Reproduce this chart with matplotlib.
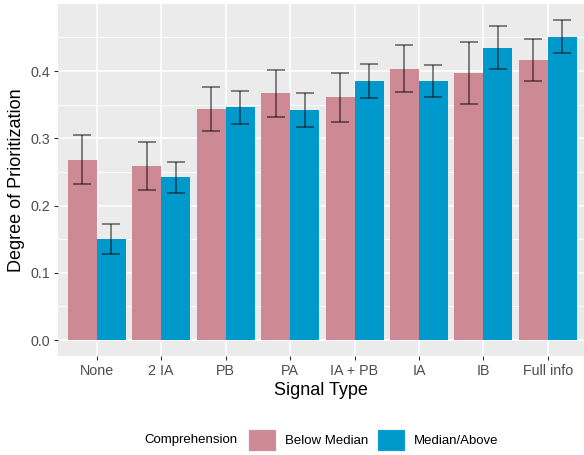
import matplotlib.pyplot as plt
import numpy as np
from matplotlib.patches import Patch

plt.rcParams['font.family'] = ['Liberation Sans', 'DejaVu Sans']

# data
categories = ["None", "2 IA", "PB", "PA", "IA + PB", "IA", "IB", "Full info"]
groups = ["Below Median", "Median/Above"]

below_mean = [0.268, 0.259, 0.344, 0.367, 0.361, 0.403, 0.397, 0.416]
below_low = [0.232, 0.223, 0.311, 0.332, 0.325, 0.369, 0.351, 0.386]
below_high = [0.305, 0.294, 0.377, 0.402, 0.397, 0.439, 0.443, 0.448]

above_mean = [0.150, 0.242, 0.347, 0.342, 0.386, 0.386, 0.435, 0.451]
above_low = [0.128, 0.219, 0.322, 0.317, 0.360, 0.362, 0.403, 0.427]
above_high = [0.173, 0.265, 0.371, 0.368, 0.411, 0.409, 0.467, 0.476]

colors = ["#CD8A94", "#0099CC"]

W, H = 584, 455
fig = plt.figure(figsize=(W / 100, H / 100), dpi=100)
ax = fig.add_axes([58 / W, (H - 356) / H, (W - 58) / W, (356 - 4) / H])
ax.set_facecolor("#EBEBEB")

x = np.arange(1, len(categories) + 1)
bw = 0.45
series = [(below_mean, below_low, below_high), (above_mean, above_low, above_high)]
for i, (m, lo, hi) in enumerate(series):
    xs = x + (i - 0.5) * bw
    ax.bar(xs, m, width=bw, color=colors[i], zorder=2)
    m = np.array(m)
    ax.errorbar(xs, m, yerr=[m - np.array(lo), np.array(hi) - m], fmt="none",
                ecolor="black", alpha=0.55, elinewidth=1.2, capsize=6.3,
                capthick=1.2, zorder=3)

ax.set_xlim(0.4, 8.56)
ax.set_ylim(-0.0238, 0.4998)
ax.set_yticks([0.0, 0.1, 0.2, 0.3, 0.4])
ax.set_yticklabels(["0.0", "0.1", "0.2", "0.3", "0.4"])
ax.set_yticks([0.05, 0.15, 0.25, 0.35, 0.45], minor=True)
ax.set_xticks(x)
ax.set_xticklabels(categories)
ax.grid(True, which="major", color="white", linewidth=1.1, zorder=0)
ax.grid(True, which="minor", axis="y", color="white", linewidth=0.55, zorder=0)
ax.set_axisbelow(True)
for s in ax.spines.values():
    s.set_visible(False)
ax.tick_params(axis="both", which="major", length=3, width=0.8, color="#333333",
               labelcolor="#4D4D4D", labelsize=10.3, pad=2.5)
ax.tick_params(axis="both", which="minor", length=0)

ax.set_xlabel("Signal Type", fontsize=13, labelpad=3)
ax.set_ylabel("Degree of Prioritization", fontsize=13, labelpad=4)

fig.text(144 / W, 1 - 440 / H, "Comprehension", fontsize=9.5, va="center", ha="left")
handles = [Patch(facecolor=c, edgecolor="#F2F2F2", linewidth=0.8) for c in colors]
fig.legend(handles, groups, loc="center left", bbox_to_anchor=(248 / W, 1 - 440 / H),
           ncol=2, frameon=False, fontsize=9.5, handlelength=2.1, handleheight=2.1,
           handletextpad=0.7, columnspacing=0.67, borderaxespad=0, borderpad=0)

fig.savefig("out.png", dpi=100)
